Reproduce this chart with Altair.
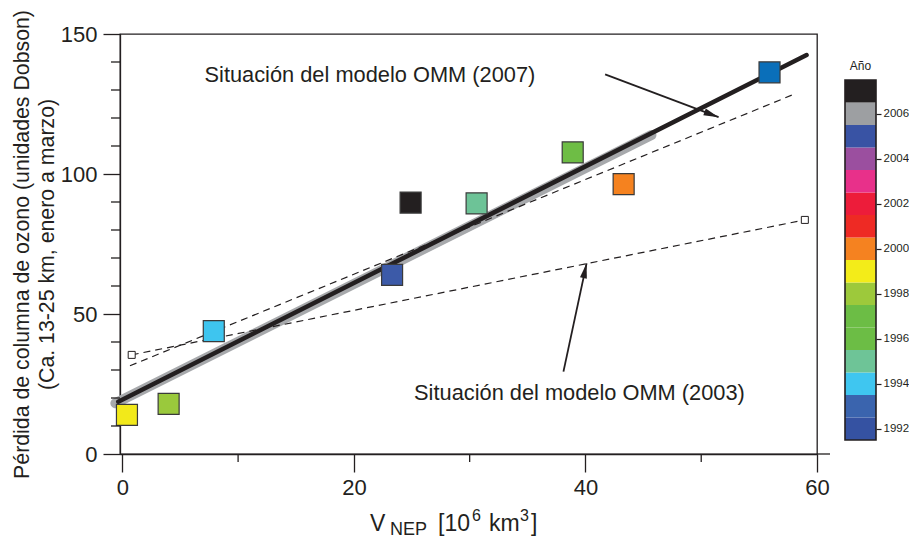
import altair as alt
import pandas as pd

FONT = "Liberation Sans"
INK = "#231f20"

# ---------------- data ----------------
pt_x = [0.4, 4.0, 7.9, 23.3, 24.9, 30.6, 38.9, 43.3, 55.9]
pt_y = [14.0, 17.9, 43.9, 64.0, 89.8, 89.5, 107.7, 96.4, 136.3]
pt_color = ["#f2e91a", "#9ac93c", "#3ec5ef", "#3c5aa8", "#231f20",
            "#6dc397", "#6ebd45", "#f5821f", "#0a6fba"]

band_x = [-0.6, 45.7]
band_y = [18.1, 113.9]
fit_x = [-0.35, 59.1]
fit_y = [18.7, 142.5]
wmo2007_x = [0.66, 58.2]
wmo2007_y = [31.5, 128.8]
wmo2003_x = [0.81, 58.95]
wmo2003_y = [35.4, 83.6]

arrow_tail_x = [41.7, 38.1]
arrow_tail_y = [135.6, 29.4]
arrow_tip_x = [51.5, 40.1]
arrow_tip_y = [120.3, 68.1]
arrow_angle = [110.7, 12.2]

label_text = ["Situación del modelo OMM (2007)", "Situación del modelo OMM (2003)"]
label_x = [7.1, 25.2]
label_y = [135.4, 21.8]

x_major = [0, 20, 40, 60]
x_minor = [10, 30, 50]
y_major = [0, 50, 100, 150]
y_minor = [10, 20, 30, 40, 60, 70, 80, 90, 110, 120, 130, 140]

years = list(range(1992, 2008))
year_colors = ["#3552a2", "#3a64ae", "#3fc6f0", "#6ec497", "#6cbd45", "#6cbd45",
               "#9dc93b", "#f3ec19", "#f58220", "#ee2a24", "#ed1c3a", "#e8308a",
               "#9b4f9f", "#3953a4", "#9d9fa2", "#231f20"]

y_title = ["Pérdida de columna de ozono (unidades Dobson)",
           "(Ca. 13-25 km, enero a marzo)"]

# ---------------- tables ----------------
pts = pd.DataFrame({"x": pt_x, "y": pt_y, "c": pt_color})
band = pd.DataFrame({"x": band_x, "y": band_y})
fit = pd.DataFrame({"x": fit_x, "y": fit_y})
dashed = pd.concat([
    pd.DataFrame({"x": wmo2007_x, "y": wmo2007_y, "s": "2007"}),
    pd.DataFrame({"x": wmo2003_x, "y": wmo2003_y, "s": "2003"}),
])
ends = pd.DataFrame({"x": wmo2003_x, "y": wmo2003_y})
arrows = pd.DataFrame({"x": arrow_tail_x, "y": arrow_tail_y,
                       "x2": arrow_tip_x, "y2": arrow_tip_y, "a": arrow_angle})
labels = pd.DataFrame({"x": label_x, "y": label_y, "t": label_text})
xmin = pd.DataFrame({"x": x_minor})
ymin = pd.DataFrame({"y": y_minor})
leg = pd.DataFrame({"lo": [y - 0.5 for y in years], "hi": [y + 0.5 for y in years],
                    "year": years, "c": year_colors})

W, H = 697, 420
xs = alt.Scale(domain=[-0.2, 60], nice=False, zero=False)
ys = alt.Scale(domain=[0, 150], nice=False, zero=False)

AX = alt.Axis(values=x_major, tickSize=18, labelPadding=5, labelFontSize=22,
              labelFlush=False, format="d", title=None, grid=False, orient="bottom",
              domainColor=INK, tickColor=INK, labelColor=INK,
              domainWidth=1.3, tickWidth=1.3, labelFont=FONT)
AY = alt.Axis(values=y_major, tickSize=17, labelPadding=6, labelFontSize=22, orient="left",
              format="d", title=y_title, titleFontSize=21.3, titleFontWeight="normal",
              titlePadding=3, titleLineHeight=25, grid=False,
              domainColor=INK, tickColor=INK, labelColor=INK, titleColor=INK,
              domainWidth=1.3, tickWidth=1.3, labelFont=FONT, titleFont=FONT)


def X(f="x"):
    return alt.X(f"{f}:Q", scale=xs, axis=AX)


def Y(f="y"):
    return alt.Y(f"{f}:Q", scale=ys, axis=AY)


band_l = alt.Chart(band).mark_line(color="#a7a9ac", strokeWidth=10, strokeCap="round").encode(x=X(), y=Y())
fit_l = alt.Chart(fit).mark_line(color=INK, strokeWidth=4.5, strokeCap="round").encode(x=X(), y=Y())
dash_l = alt.Chart(dashed).mark_line(color=INK, strokeWidth=1.2, strokeDash=[7, 5]).encode(
    x=X(), y=Y(), detail="s:N")
ends_l = alt.Chart(ends).mark_square(size=49, fill="white", stroke=INK, strokeWidth=1, opacity=1).encode(
    x=X(), y=Y())

pts_l = alt.Chart(pts).mark_square(size=441, opacity=1, stroke="#3a3a3a", strokeWidth=1.2).encode(
    x=X(), y=Y(), fill=alt.Fill("c:N", scale=None))

arrow_l = alt.Chart(arrows).mark_rule(color=INK, strokeWidth=1.8).encode(
    x=X(), y=Y(), x2="x2:Q", y2="y2:Q")
head_l = alt.Chart(arrows).mark_point(shape="M0,0L-0.35,1.5L0.35,1.5Z", size=400, filled=True,
                                      color=INK, opacity=1).encode(
    x=X("x2"), y=Y("y2"), angle=alt.Angle("a:Q", scale=None))

text_l = alt.Chart(labels).mark_text(align="left", baseline="middle", fontSize=21.8, font=FONT,
                                     color=INK).encode(x=X(), y=Y(), text="t:N")

xminor_l = alt.Chart(xmin).mark_rule(color=INK, strokeWidth=1.3).encode(
    x=X(), y=alt.value(H), y2=alt.value(H + 8))
yminor_l = alt.Chart(ymin).mark_rule(color=INK, strokeWidth=1.3).encode(
    y=Y(), x=alt.value(-9), x2=alt.value(0))
ext_l = alt.Chart(pd.DataFrame({"y": [0]})).mark_rule(color=INK, strokeWidth=1.3).encode(
    y=Y(), x=alt.value(W), x2=alt.value(W + 13))


def frag(txt, px, py, size, align="left"):
    return alt.Chart(pd.DataFrame({"a": [0]})).mark_text(
        text=txt, align=align, baseline="alphabetic", fontSize=size, font=FONT, color=INK
    ).encode(x=alt.value(px), y=alt.value(py))


frags = [
    frag("V", 250, 497, 23),
    frag("NEP", 270, 501, 18),
    frag("[10", 318, 497, 23),
    frag("6", 352, 487, 16),
    frag("km", 369, 497, 23),
    frag("3", 400, 487, 16),
    frag("]", 411, 497, 23),
]

main = alt.layer(band_l, fit_l, dash_l, ends_l, arrow_l, head_l, pts_l, text_l,
                 xminor_l, yminor_l, ext_l, *frags)

# ---------------- colour bar legend ----------------
ls = alt.Scale(domain=[1990.878, 2009.544], nice=False, zero=False)
leg_rect = alt.Chart(leg).mark_rect().encode(
    x=alt.value(725), x2=alt.value(756),
    y=alt.Y("lo:Q", scale=ls,
            axis=alt.Axis(orient="right", offset=59, values=years, format="d",
                          labelExpr="datum.value % 2 == 0 ? datum.label : ''",
                          tickSize=5, domain=False, grid=False, title=None,
                          labelFontSize=11.5, labelPadding=2, tickColor=INK, labelColor=INK,
                          tickWidth=1.2, labelFont=FONT)),
    y2="hi:Q",
    fill=alt.Fill("c:N", scale=None),
)
leg_frame = alt.Chart(pd.DataFrame({"a": [0]})).mark_rect(
    fill=None, stroke=INK, strokeWidth=1.6).encode(
    x=alt.value(725), x2=alt.value(756),
    y=alt.Y(datum=1991.5, scale=ls), y2=alt.Y2(datum=2007.5))
leg_title = alt.Chart(pd.DataFrame({"a": [0]})).mark_text(
    text="Año", fontSize=12, font=FONT, color=INK, align="center", baseline="middle").encode(
    x=alt.value(740.5), y=alt.Y(datum=2008.1, scale=ls))

legend = alt.layer(leg_rect, leg_frame, leg_title)

chart = alt.layer(main, legend).resolve_scale(y="independent").properties(
    width=W, height=H,
    padding={"left": 112, "top": 26, "right": 92, "bottom": 85},
    autosize=alt.AutoSizeParams(type="none"),
).configure_view(stroke=INK, strokeWidth=1.3)

chart.save("out.html", embed_options={"renderer": "svg", "actions": False})
